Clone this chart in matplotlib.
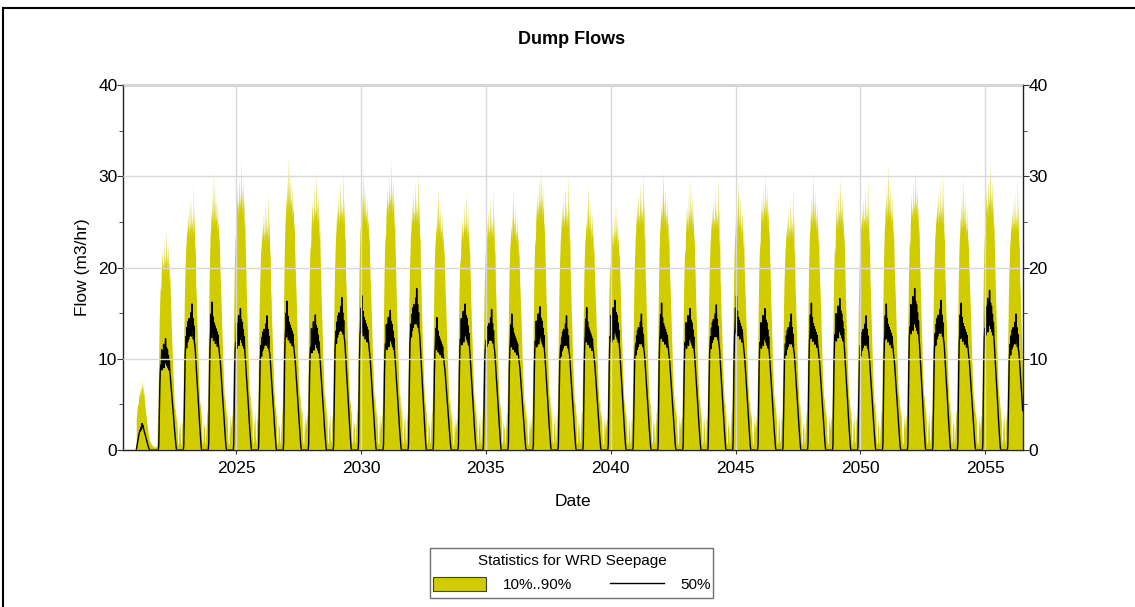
import numpy as np
import matplotlib
matplotlib.use("Agg")
import matplotlib.pyplot as plt
from matplotlib.patches import Patch, Rectangle
from matplotlib.lines import Line2D

plt.rcParams['font.family'] = ['Liberation Sans', 'DejaVu Sans']

# ---------------- data ----------------
# first (partial) year 2021, weekly values from 1 Jan 2021 (m3/hr)
first_year = 2021
first_p90 = [3.5, 4.0, 4.6, 5.2, 4.8, 5.8, 6.3, 5.6, 6.8, 6.0,
             7.0, 6.4, 7.7, 6.6, 7.1, 6.0, 6.4, 5.4, 5.0, 4.4,
             4.0, 3.5, 3.0, 2.6, 2.2, 1.8, 1.5, 1.2, 1.0, 0.8,
             0.9, 0.6, 0.7, 0.4, 0.6, 0.3, 0.5, 0.3, 0.4, 0.2,
             0.4, 0.3, 0.5, 0.4]
first_p50 = [0.0, 0.3, 0.6, 0.9, 1.2, 1.5, 1.8, 2.0, 2.2, 2.1,
             2.5, 2.3, 2.9, 2.6, 2.7, 2.4, 2.2, 2.0, 1.8, 1.6,
             1.4, 1.2, 1.0, 0.8, 0.6, 0.4, 0.25, 0.1, 0.0, 0.0,
             0.0, 0.0, 0.0, 0.0, 0.0, 0.0, 0.0, 0.0, 0.0, 0.0,
             0.0, 0.0, 0.0, 0.0]

years = list(range(2022, 2057))

# annual peak of the 90 % percentile (m3/hr)
p90_peak = [24.2, 29.1, 30.4, 31.9, 28.4, 32.4, 30.4, 30.8, 30.8,
            31.9, 30.8, 28.9, 28.4, 28.8, 28.6, 31.3, 30.3, 29.1, 27.4,
            30.7, 30.7, 29.8, 30.0, 29.7, 30.7, 28.8, 30.4, 30.0, 30.0,
            31.3, 31.1, 30.8, 29.8, 31.7, 29.6]

# annual peak of the 50 % percentile (m3/hr)
p50_peak = [12.2, 16.0, 16.2, 15.5, 14.7, 16.3, 14.8, 16.7, 16.9,
            15.3, 17.7, 14.5, 16.0, 15.4, 14.9, 15.7, 14.7, 15.6, 16.4,
            14.9, 16.1, 15.5, 15.9, 16.9, 15.5, 14.9, 16.1, 16.6, 14.7,
            16.0, 17.7, 16.4, 16.1, 17.5, 14.9]

# weekly shape of a pulse (fraction of the annual peak), weeks -8 .. 43 from 1 Jan
week_offsets = list(range(-8, 44))

p90_shape_a = [0.12, 0.20, 0.32, 0.48, 0.60, 0.68, 0.74, 0.72,
               0.80, 0.84, 0.90, 0.82, 0.86, 0.80, 0.95, 0.84, 0.88, 0.82,
               1.00, 0.84, 0.90, 0.80, 0.94, 0.82, 0.86, 0.76, 0.80, 0.70,
               0.64, 0.56, 0.50, 0.44, 0.38, 0.32, 0.27, 0.22, 0.18, 0.20,
               0.14, 0.17, 0.10, 0.15, 0.04, 0.02, 0.03, 0.12, 0.07, 0.14,
               0.05, 0.02, 0.04, 0.13]
p90_shape_b = [0.10, 0.16, 0.28, 0.42, 0.55, 0.64, 0.70, 0.76,
               0.78, 0.84, 0.80, 0.88, 0.82, 0.92, 0.80, 0.85, 0.83, 0.96,
               0.80, 0.90, 0.82, 0.87, 0.80, 1.00, 0.80, 0.90, 0.74, 0.78,
               0.62, 0.58, 0.50, 0.45, 0.38, 0.33, 0.27, 0.23, 0.19, 0.16,
               0.18, 0.12, 0.15, 0.03, 0.02, 0.04, 0.12, 0.08, 0.10, 0.02,
               0.03, 0.07, 0.10, 0.14]
p90_shape_c = [0.14, 0.24, 0.38, 0.52, 0.64, 0.72, 0.78, 0.80,
               0.86, 0.82, 0.92, 0.80, 0.88, 1.00, 0.82, 0.90, 0.80, 0.94,
               0.82, 0.85, 0.78, 0.90, 0.80, 0.82, 0.74, 0.78, 0.68, 0.62,
               0.57, 0.52, 0.46, 0.40, 0.34, 0.29, 0.24, 0.20, 0.17, 0.20,
               0.13, 0.16, 0.11, 0.14, 0.07, 0.03, 0.02, 0.02, 0.09, 0.13,
               0.06, 0.11, 0.08, 0.12]

p50_shape_a = [0, 0, 0, 0.04, 0.30, 0.55, 0.70, 0.76,
               0.74, 0.90, 0.72, 0.86, 0.76, 0.95, 0.74, 0.88, 0.78, 1.00,
               0.80, 0.92, 0.76, 0.90, 0.74, 0.85, 0.72, 0.80, 0.70, 0.66,
               0.60, 0.55, 0.50, 0.45, 0.39, 0.34, 0.28, 0.23, 0.17, 0.12,
               0.07, 0.03, 0, 0, 0, 0, 0, 0, 0, 0,
               0, 0, 0, 0]
p50_shape_b = [0, 0, 0, 0.03, 0.25, 0.50, 0.66, 0.72,
               0.78, 0.70, 0.84, 0.74, 0.88, 0.76, 0.90, 0.78, 0.86, 0.80,
               0.94, 0.78, 1.00, 0.82, 0.90, 0.76, 0.85, 0.74, 0.72, 0.68,
               0.62, 0.57, 0.51, 0.46, 0.40, 0.35, 0.29, 0.24, 0.18, 0.13,
               0.08, 0.03, 0, 0, 0, 0, 0, 0, 0, 0,
               0, 0, 0, 0]
p50_shape_c = [0, 0, 0, 0.05, 0.35, 0.60, 0.74, 0.80,
               0.92, 0.76, 1.00, 0.80, 0.90, 0.74, 0.86, 0.76, 0.84, 0.72,
               0.82, 0.74, 0.80, 0.70, 0.78, 0.72, 0.70, 0.66, 0.63, 0.60,
               0.55, 0.50, 0.45, 0.40, 0.35, 0.30, 0.25, 0.20, 0.15, 0.10,
               0.06, 0.02, 0, 0, 0, 0, 0, 0, 0, 0,
               0, 0, 0, 0]

# 10 % percentile: sits on zero throughout the record
p10_level = 0.0

x_ticks = [2025, 2030, 2035, 2040, 2045, 2050, 2055]
y_ticks = [0, 10, 20, 30, 40]
y_minor = [5, 15, 25, 35]

# ---------------- assemble series ----------------
p90_shapes = [p90_shape_a, p90_shape_b, p90_shape_c]
p50_shapes = [p50_shape_a, p50_shape_b, p50_shape_c]
t_all = [first_year + np.arange(len(first_p90)) / 52.0]
hi_all = [np.array(first_p90)]
mid_all = [np.array(first_p50)]
wk = np.array(week_offsets, dtype=float)
for i, yr in enumerate(years):
    tt = yr + wk / 52.0
    hi = np.array(p90_shapes[i % 3]) * p90_peak[i]
    mid = np.array(p50_shapes[i % 3]) * p50_peak[i]
    m = tt <= 2056.5
    t_all.append(tt[m]); hi_all.append(hi[m]); mid_all.append(mid[m])
t = np.concatenate(t_all)
p90 = np.concatenate(hi_all)
p50 = np.concatenate(mid_all)
p10 = np.full_like(t, p10_level)

# ---------------- figure ----------------
W, H = 1135, 607
fig = plt.figure(figsize=(W / 100, H / 100), dpi=100)
L, R, T, B = 123, 1022.7, 85, 450
ax = fig.add_axes([L / W, 1 - B / H, (R - L) / W, (B - T) / H])

yellow = '#D1CC00'
ax.fill_between(t, p10, p90, color=yellow, linewidth=0, zorder=1)
ax.plot(t, p50, color='black', linewidth=1.0, zorder=2)

ax.set_xlim(2020.47, 2056.5)
ax.set_ylim(0, 40)
ax.set_xticks(x_ticks)
ax.set_yticks(y_ticks)
ax.set_yticks(y_minor, minor=True)
ax.tick_params(axis='both', which='both', direction='out', labelsize=12.5, color='#333333')
ax.tick_params(axis='x', length=3, pad=5)
ax.tick_params(axis='y', which='major', length=4, pad=0, right=True, labelright=True)
ax.tick_params(axis='y', which='minor', length=3, right=True)
ax.grid(True, which='major', color='#D9D9D9', linewidth=1.0, zorder=3)
ax.set_axisbelow(False)
for s in ax.spines.values():
    s.set_color('#222222')
    s.set_linewidth(1.0)

fig.text(572 / W, 1 - 39 / H, 'Dump Flows', ha='center', va='center',
         fontsize=13, fontweight='bold')
ax.set_xlabel('Date', fontsize=12.5, va='center')
ax.xaxis.set_label_coords(0.5, -(501 - B) / (B - T))
ax.set_ylabel('Flow (m3/hr)', fontsize=12.5, va='center')
ax.yaxis.set_label_coords(-(L - 82) / (R - L), 0.5)

handles = [Patch(facecolor=yellow, edgecolor='#404040', linewidth=0.8),
           Line2D([], [], color='black', linewidth=1.0)]
leg = fig.legend(handles=handles, labels=['10%..90%', '50%'], ncol=2,
                 title='Statistics for WRD Seepage', loc='upper center',
                 bbox_to_anchor=(572 / W, 1 - 548 / H),
                 bbox_transform=fig.transFigure, fontsize=11, title_fontsize=11,
                 frameon=False,
                 handlelength=3.5, handleheight=1.0, handletextpad=1.1,
                 columnspacing=2.5, borderpad=0.4, labelspacing=0.6,
                 borderaxespad=0)
# legend frame (box 430..713 x 548..598 px)
fig.add_artist(Rectangle((430 / W, 1 - 598 / H), 283 / W, 50 / H,
                         transform=fig.transFigure, fill=False,
                         edgecolor='#707070', linewidth=1.0))

fig.add_artist(Rectangle((3 / W, -0.1), 1.2, 1 - 8 / H + 0.1,
                         transform=fig.transFigure, fill=False,
                         edgecolor='black', linewidth=1.5))

fig.savefig('out.png', dpi=100)
